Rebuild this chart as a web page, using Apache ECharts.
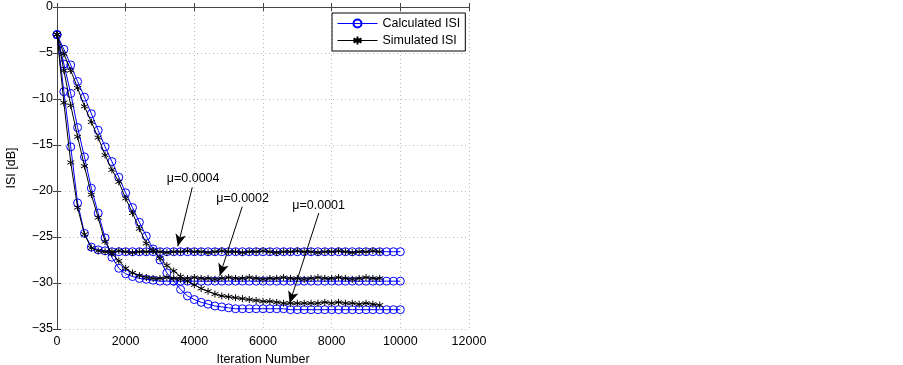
<!DOCTYPE html>
<html>
<head>
<meta charset="utf-8">
<script src="https://cdn.jsdelivr.net/npm/echarts@6/dist/echarts.min.js"></script>
<style>
  html, body { margin: 0; padding: 0; background: #fff; }
  #chart { width: 903px; height: 365px; }
</style>
</head>
<body>
<div id="chart"></div>
<script>
// iterations of the calculated curves (every 200, up to 10000)
const iterCalc = [0, 200, 400, 600, 800, 1000, 1200, 1400, 1600, 1800, 2000, 2200, 2400, 2600, 2800, 3000,
  3200, 3400, 3600, 3800, 4000, 4200, 4400, 4600, 4800, 5000, 5200, 5400, 5600, 5800, 6000, 6200, 6400,
  6600, 6800, 7000, 7200, 7400, 7600, 7800, 8000, 8200, 8400, 8600, 8800, 9000, 9200, 9400, 9600, 9800, 10000];
// simulated curves stop at 9400
const iterSim = iterCalc.slice(0, 48);

// mu = 0.0004
const calc4 = [-3, -9.2, -15.2, -21.3, -24.6, -26.1, -26.4, -26.5, -26.6, -26.6, -26.6, -26.6, -26.6, -26.6,
  -26.6, -26.6, -26.6, -26.6, -26.6, -26.6, -26.6, -26.6, -26.6, -26.6, -26.6, -26.6, -26.6, -26.6, -26.6,
  -26.6, -26.6, -26.6, -26.6, -26.6, -26.6, -26.6, -26.6, -26.6, -26.6, -26.6, -26.6, -26.6, -26.6, -26.6,
  -26.6, -26.6, -26.6, -26.6, -26.6, -26.6, -26.6];
const sim4 = [-3, -10.4, -16.9, -21.8, -24.7, -26.2, -26.5, -26.6, -26.6, -26.5, -26.6, -26.7, -26.6, -26.6,
  -26.5, -26.6, -26.7, -26.6, -26.6, -26.5, -26.6, -26.6, -26.7, -26.6, -26.5, -26.6, -26.6, -26.7, -26.6,
  -26.6, -26.5, -26.6, -26.7, -26.6, -26.6, -26.5, -26.6, -26.6, -26.7, -26.6, -26.6, -26.5, -26.6, -26.7,
  -26.6, -26.6, -26.5, -26.6];

// mu = 0.0002
const calc2 = [-3, -6.2, -9.4, -13.1, -16.3, -19.7, -22.4, -25.1, -27.2, -28.4, -29.0, -29.3, -29.5, -29.6,
  -29.7, -29.8, -29.8, -29.8, -29.8, -29.8, -29.8, -29.8, -29.8, -29.8, -29.8, -29.8, -29.8, -29.8, -29.8,
  -29.8, -29.8, -29.8, -29.8, -29.8, -29.8, -29.8, -29.8, -29.8, -29.8, -29.8, -29.8, -29.8, -29.8, -29.8,
  -29.8, -29.8, -29.8, -29.8, -29.8, -29.8, -29.8];
const sim2 = [-3, -6.9, -10.7, -14.1, -17.3, -20.4, -22.9, -25.5, -26.8, -27.6, -28.4, -28.9, -29.2, -29.4,
  -29.5, -29.5, -29.4, -29.5, -29.6, -29.5, -29.4, -29.5, -29.5, -29.6, -29.5, -29.4, -29.5, -29.5, -29.4,
  -29.5, -29.6, -29.5, -29.5, -29.4, -29.5, -29.5, -29.6, -29.5, -29.4, -29.5, -29.5, -29.4, -29.5, -29.6,
  -29.5, -29.4, -29.5, -29.5];

// mu = 0.0001
const calc1 = [-3, -4.6, -6.3, -8.1, -9.8, -11.6, -13.4, -15.2, -16.8, -18.5, -20.2, -21.8, -23.4, -24.9,
  -26.3, -27.5, -28.9, -29.8, -30.7, -31.4, -31.8, -32.1, -32.3, -32.5, -32.6, -32.7, -32.8, -32.8, -32.8,
  -32.8, -32.8, -32.8, -32.8, -32.8, -32.9, -32.9, -32.9, -32.9, -32.9, -32.9, -32.9, -32.9, -32.9, -32.9,
  -32.9, -32.9, -32.9, -32.9, -32.9, -32.9, -32.9];
const sim1 = [-3, -5.1, -6.9, -8.8, -10.8, -12.5, -14.2, -16.1, -17.7, -19.0, -20.8, -22.4, -24.1, -25.7,
  -26.5, -27.3, -28.1, -28.7, -29.3, -29.8, -30.2, -30.6, -30.9, -31.2, -31.4, -31.5, -31.6, -31.7, -31.8,
  -31.9, -32.0, -32.0, -32.1, -32.2, -32.2, -32.2, -32.2, -32.2, -32.2, -32.1, -32.2, -32.1, -32.2, -32.2,
  -32.3, -32.2, -32.3, -32.4];

const xTicks = [0, 2000, 4000, 6000, 8000, 10000, 12000];
const yTicks = [0, -5, -10, -15, -20, -25, -30, -35];

// annotations: label position and arrow [from, to] in data units
const notes = [
  { text: 'μ=0.0004', at: [3965, -18.7], from: [3940, -19.6], to: [3520, -26.0] },
  { text: 'μ=0.0002', at: [5405, -20.8], from: [5395, -21.7], to: [4740, -29.2] },
  { text: 'μ=0.0001', at: [7620, -21.6], from: [7625, -22.4], to: [6775, -32.2] }
];

const font = 'Liberation Sans, Arial, sans-serif';
const blue = '#0000ff';
const starPath = 'path://M5,0L5,10M0.67,2.5L9.33,7.5M0.67,7.5L9.33,2.5';

function pairs(xs, ys) {
  return ys.map(function(v, i) { return [xs[i], v]; });
}

function calcSeries(ys) {
  return {
    name: 'Calculated ISI',
    type: 'line',
    data: pairs(iterCalc, ys),
    symbol: 'circle',
    symbolSize: 8,
    lineStyle: { color: blue, width: 1 },
    itemStyle: { color: 'rgba(0,0,0,0)', borderColor: blue, borderWidth: 1 },
    z: 2
  };
}

function simSeries(ys) {
  return {
    name: 'Simulated ISI',
    type: 'line',
    data: pairs(iterSim, ys),
    symbol: starPath,
    symbolSize: 7,
    lineStyle: { color: '#000', width: 1 },
    itemStyle: { color: '#000', borderColor: '#000', borderWidth: 1 },
    z: 3
  };
}

const series = [calcSeries(calc4), calcSeries(calc2), calcSeries(calc1),
  simSeries(sim4), simSeries(sim2), simSeries(sim1)];

series.push({
  type: 'line',
  data: [],
  silent: true,
  markLine: {
    silent: true,
    symbol: ['none', 'arrow'],
    symbolSize: [8, 12],
    label: { show: false },
    lineStyle: { color: '#000', width: 1, type: 'solid' },
    data: notes.map(function(n) { return [{ coord: n.from }, { coord: n.to }]; })
  },
  markPoint: {
    silent: true,
    symbol: 'rect',
    symbolSize: 1,
    itemStyle: { color: 'rgba(0,0,0,0)' },
    label: {
      show: true, position: 'inside', color: '#000', fontFamily: font, fontSize: 12.5,
      formatter: function(p) { return p.name; }
    },
    data: notes.map(function(n) { return { name: n.text, coord: n.at }; })
  },
  z: 4
});

const axisLineStyle = { color: '#444', width: 1 };
const minus = function(v) { return String(v).replace('-', '\u2212'); };

const chart = echarts.init(document.getElementById('chart'));
chart.setOption({
  animation: false,
  backgroundColor: '#fff',
  textStyle: { fontFamily: font },
  grid: { left: 57, right: 434, top: 7, bottom: 36, outerBoundsMode: 'none', containLabel: false },
  legend: {
    data: ['Calculated ISI', 'Simulated ISI'],
    orient: 'vertical',
    left: 332,
    top: 13,
    itemWidth: 40,
    itemHeight: 10,
    itemGap: 4,
    padding: [4, 5, 4, 5],
    borderColor: '#000',
    borderWidth: 1,
    backgroundColor: '#fff',
    lineStyle: { width: 1 },
    textStyle: { fontFamily: font, fontSize: 12.5, color: '#000' }
  },
  xAxis: [
    {
      type: 'value', min: 0, max: 12000, interval: 2000,
      name: 'Iteration Number', nameLocation: 'middle', nameGap: 21,
      nameTextStyle: { fontFamily: font, fontSize: 12.5, color: '#000' },
      axisLine: { show: true, lineStyle: axisLineStyle },
      axisTick: { show: true, inside: true, length: 4, lineStyle: axisLineStyle },
      axisLabel: {
        color: '#000', fontFamily: font, fontSize: 12.5, margin: 6,
        formatter: function(v) { return xTicks.indexOf(v) >= 0 ? String(v) : ''; }
      },
      splitLine: { show: true, lineStyle: { color: '#bbb', width: 1, type: [1, 3] } }
    },
    {
      type: 'value', min: 0, max: 12000, interval: 2000, position: 'top',
      axisLine: { show: true, lineStyle: axisLineStyle },
      axisTick: { show: true, inside: true, length: 4, lineStyle: axisLineStyle },
      axisLabel: { show: false },
      splitLine: { show: false }
    }
  ],
  yAxis: [
    {
      type: 'value', min: -35, max: 0, interval: 5,
      name: 'ISI [dB]', nameLocation: 'middle', nameGap: 39,
      nameTextStyle: { fontFamily: font, fontSize: 12.5, color: '#000' },
      axisLine: { show: true, lineStyle: axisLineStyle },
      axisTick: { show: true, inside: true, length: 4, lineStyle: axisLineStyle },
      axisLabel: {
        color: '#000', fontFamily: font, fontSize: 12.5, margin: 4,
        formatter: function(v) { return yTicks.indexOf(v) >= 0 ? minus(v) : ''; }
      },
      splitLine: { show: true, lineStyle: { color: '#bbb', width: 1, type: [1, 3] } }
    },
    {
      type: 'value', min: -35, max: 0, interval: 5, position: 'right',
      axisLine: { show: true, lineStyle: axisLineStyle },
      axisTick: { show: true, inside: true, length: 4, lineStyle: axisLineStyle },
      axisLabel: { show: false },
      splitLine: { show: false }
    }
  ],
  series: series
});
</script>
</body>
</html>
